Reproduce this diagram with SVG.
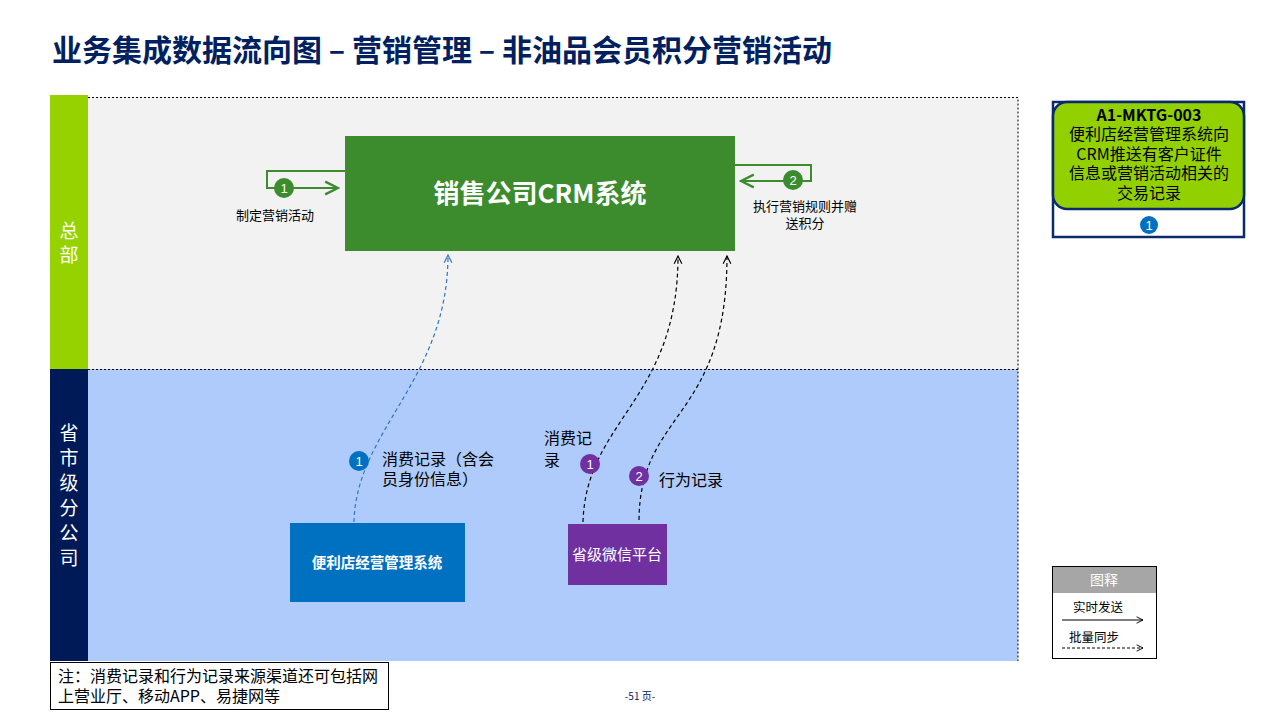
<svg xmlns="http://www.w3.org/2000/svg" width="1280" height="720" viewBox="0 0 1280 720">
<defs>
<style>
text{font-family:"Noto Sans CJK SC","Liberation Sans",sans-serif;}
.lbl{font-size:13px;fill:#000;}
.lane{font-size:19px;fill:#fff;text-anchor:middle;}
.num{font-size:13px;fill:#fff;text-anchor:middle;font-family:"Liberation Sans","Noto Sans CJK SC",sans-serif;}
.dash{fill:none;stroke-width:1.2;stroke-dasharray:4,3;}
</style>
<marker id="ag" viewBox="0 0 10 10" refX="9" refY="5" markerWidth="8" markerHeight="8" orient="auto"><path d="M1,1 L9,5 L1,9" fill="none" stroke="#3C8C2E" stroke-width="1.5"/></marker>
<marker id="ab" viewBox="0 0 10 10" refX="9" refY="5" markerWidth="8" markerHeight="8" orient="auto"><path d="M1,1 L9,5 L1,9" fill="none" stroke="#2E75C6" stroke-width="1.2"/></marker>
<marker id="ak" viewBox="0 0 10 10" refX="9" refY="5" markerWidth="8" markerHeight="8" orient="auto"><path d="M1,1 L9,5 L1,9" fill="none" stroke="#000" stroke-width="1.2"/></marker>
</defs>
<rect width="1280" height="720" fill="#fff"/>
<text x="52" y="61" font-size="30" font-weight="bold" fill="#002060">业务集成数据流向图 – 营销管理 – 非油品会员积分营销活动</text>

<g id="lane-hq">
<rect x="88" y="97" width="930" height="272" fill="#F2F2F2"/>
<rect x="50" y="95" width="38" height="274" fill="#96D200"/>
<text class="lane" x="69" y="238">总</text>
<text class="lane" x="69" y="262">部</text>
</g>
<g id="lane-prov">
<rect x="88" y="369" width="930" height="292" fill="#AFCBFC"/>
<rect x="50" y="369" width="38" height="292" fill="#001A57"/>
<text class="lane" x="69" y="440">省</text>
<text class="lane" x="69" y="465">市</text>
<text class="lane" x="69" y="490">级</text>
<text class="lane" x="69" y="515">分</text>
<text class="lane" x="69" y="540">公</text>
<text class="lane" x="69" y="565">司</text>
</g>
<path d="M88,97.5 H1018 V661 M88,369.5 H1018" fill="none" stroke="#000" stroke-width="1" stroke-dasharray="2,2"/>

<g id="crm">
<rect x="345" y="136" width="390" height="115" fill="#3C8C2E"/>
<text x="540" y="203" font-size="26" font-weight="bold" fill="#fff" text-anchor="middle">销售公司CRM系统</text>
</g>
<g id="store">
<rect x="290" y="523" width="175" height="79" fill="#0070C0"/>
<text x="377" y="568" font-size="14.5" font-weight="bold" fill="#fff" text-anchor="middle">便利店经营管理系统</text>
</g>
<g id="wechat">
<rect x="568" y="524" width="99" height="61" fill="#7030A0"/>
<text x="617" y="560" font-size="15" fill="#fff" text-anchor="middle">省级微信平台</text>
</g>

<g id="connectors">
<path d="M345,171 H267 V188 H338" fill="none" stroke="#3C8C2E" stroke-width="2" marker-end="url(#ag)"/>
<path d="M735,165 H811 V181 H741" fill="none" stroke="#3C8C2E" stroke-width="2" marker-end="url(#ag)"/>
<path class="dash" d="M354,522 C356,430 448,380 448,255" stroke="#2E75C6" marker-end="url(#ab)"/>
<path class="dash" d="M583,522 C586,420 678,400 678,256" stroke="#000" marker-end="url(#ak)"/>
<path class="dash" d="M639,520 C640,410 727,420 727,256" stroke="#000" marker-end="url(#ak)"/>
</g>

<g id="labels">
<circle cx="284" cy="188" r="10" fill="#3C8C2E"/><text class="num" x="284" y="193">1</text>
<text class="lbl" x="275" y="220" text-anchor="middle">制定营销活动</text>
<circle cx="793" cy="180" r="10" fill="#3C8C2E"/><text class="num" x="793" y="185">2</text>
<text class="lbl" x="805" y="211" text-anchor="middle">执行营销规则并赠</text>
<text class="lbl" x="805" y="228" text-anchor="middle">送积分</text>
<circle cx="359" cy="461" r="10" fill="#0070C0"/><text class="num" x="359" y="466">1</text>
<text x="382" y="465" font-size="16">消费记录（含会</text>
<text x="382" y="485" font-size="16">员身份信息）</text>
<circle cx="590" cy="464" r="10" fill="#7030A0"/><text class="num" x="590" y="469">1</text>
<text x="544" y="444" font-size="16">消费记</text>
<text x="544" y="466" font-size="16">录</text>
<circle cx="639" cy="476" r="10" fill="#7030A0"/><text class="num" x="639" y="481">2</text>
<text x="659" y="486" font-size="16">行为记录</text>
</g>

<g id="info-box">
<rect x="1053" y="102" width="191" height="135" fill="#fff" stroke="#0B2A6B" stroke-width="2.5"/>
<rect x="1053" y="102" width="191" height="107" rx="14" fill="#92D000" stroke="#0B2A6B" stroke-width="2.5"/>
<text x="1149" y="121" font-size="16" font-weight="bold" fill="#000" text-anchor="middle" font-family="Liberation Sans,sans-serif">A1-MKTG-003</text>
<text x="1149" y="140" font-size="16" text-anchor="middle">便利店经营管理系统向</text>
<text x="1149" y="160" font-size="16" text-anchor="middle">CRM推送有客户证件</text>
<text x="1149" y="179" font-size="16" text-anchor="middle">信息或营销活动相关的</text>
<text x="1149" y="199" font-size="16" text-anchor="middle">交易记录</text>
<circle cx="1149" cy="225" r="9" fill="#0070C0"/><text class="num" x="1149" y="230">1</text>
</g>

<g id="legend">
<rect x="1052.5" y="566.5" width="104" height="92" fill="#fff" stroke="#000"/>
<rect x="1053" y="567" width="103" height="26" fill="#A6A6A6"/>
<text x="1104" y="585" font-size="14" fill="#fff" text-anchor="middle">图释</text>
<text x="1098" y="612" font-size="12.5" text-anchor="middle">实时发送</text>
<path d="M1062,620 H1143" fill="none" stroke="#000" stroke-width="1" marker-end="url(#ak)"/>
<text x="1094" y="642" font-size="12.5" text-anchor="middle">批量同步</text>
<path d="M1062,648 H1143" fill="none" stroke="#000" stroke-width="1" stroke-dasharray="3,2" marker-end="url(#ak)"/>
</g>

<g id="note">
<rect x="50.5" y="662.5" width="338" height="47" fill="#fff" stroke="#000"/>
<text x="58" y="682" font-size="16">注：消费记录和行为记录来源渠道还可包括网</text>
<text x="58" y="702" font-size="16">上营业厅、移动APP、易捷网等</text>
</g>
<text x="640" y="700" font-size="10" fill="#002060" text-anchor="middle">-51 页-</text>
</svg>
